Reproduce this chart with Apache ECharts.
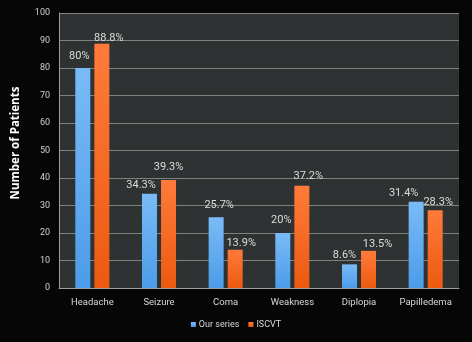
<!DOCTYPE html>
<html><head><meta charset="utf-8">
<script src="https://cdn.jsdelivr.net/npm/echarts@6/dist/echarts.min.js"></script>
<style>html,body{margin:0;padding:0;background:#060606;}#c{width:472px;height:342px;}</style>
</head><body><div id="c"></div>
<script>
const categories = ['Headache','Seizure','Coma','Weakness','Diplopia','Papilledema'];
const ourSeries = [80, 34.3, 25.7, 20, 8.6, 31.4];
const iscvt = [88.8, 39.3, 13.9, 37.2, 13.5, 28.3];
const ourLabels = ['80%','34.3%','25.7%','20%','8.6%','31.4%'];
const iscvtLabels = ['88.8%','39.3%','13.9%','37.2%','13.5%','28.3%'];
const yTitle = 'Number of Patients';

// label placement tweaks (layout only)
const ourLabelOffsets = [[-3.5,-6],[-8.4,-3],[3,-6.8],[-1.5,-7.2],[-5,-3.5],[-12.5,-3.2]];
const iscvtLabelOffsets = [[7,0],[0,-7.5],[6,-1.2],[6.5,-3.8],[9,-1.2],[3,-2.8]];

const chart = echarts.init(document.getElementById('c'));
const blue = new echarts.graphic.LinearGradient(0,0,0,1,[{offset:0,color:'#79bbf7'},{offset:1,color:'#4c9ce9'}]);
const orange = new echarts.graphic.LinearGradient(0,0,0,1,[{offset:0,color:'#ff7a3a'},{offset:1,color:'#ec5a10'}]);
const labelBase = {show:true,position:'top',distance:0,color:'#dcdcdc',fontSize:11,lineHeight:11,fontFamily:'Roboto'};
function build(vals, labels, offs){
  return vals.map((v,i)=>({value:v,label:Object.assign({},labelBase,{offset:offs[i],formatter:labels[i]})}));
}
chart.setOption({
  backgroundColor:'#060606',
  animation:false,
  grid:{left:59,right:13,top:13,bottom:54,backgroundColor:'#2f3233',show:true,borderWidth:0},
  legend:{bottom:8,left:'center',itemWidth:5,itemHeight:5,itemGap:9,icon:'rect',
    textStyle:{color:'#d8d8d8',fontSize:9,fontFamily:'Roboto',padding:[0,0,0,-2]},
    data:['Our series','ISCVT']},
  xAxis:{type:'category',data:categories,
    axisLine:{lineStyle:{color:'#9aa09a',width:1}},axisTick:{show:false},
    axisLabel:{color:'#d8d8d8',fontSize:9.5,fontFamily:'Roboto',margin:10,interval:0}},
  yAxis:{type:'value',min:0,max:100,interval:10,
    axisLine:{show:true,lineStyle:{color:'#9aa09a'}},axisTick:{show:false},
    splitLine:{lineStyle:{color:'#7d827d',width:1}},
    axisLabel:{color:'#d0d0d0',fontSize:9,fontFamily:'Roboto',margin:9}},
  graphic:[{type:'text',x:16,y:143,rotation:Math.PI/2,
    style:{text:yTitle,fill:'#ffffff',font:'bold 11.5px "Open Sans"',align:'center',verticalAlign:'middle'}}],
  series:[
    {name:'Our series',type:'bar',data:build(ourSeries,ourLabels,ourLabelOffsets),barWidth:15,barGap:'27%',
     itemStyle:{color:blue}},
    {name:'ISCVT',type:'bar',data:build(iscvt,iscvtLabels,iscvtLabelOffsets),barWidth:15,
     itemStyle:{color:orange}}
  ]
});
</script></body></html>
